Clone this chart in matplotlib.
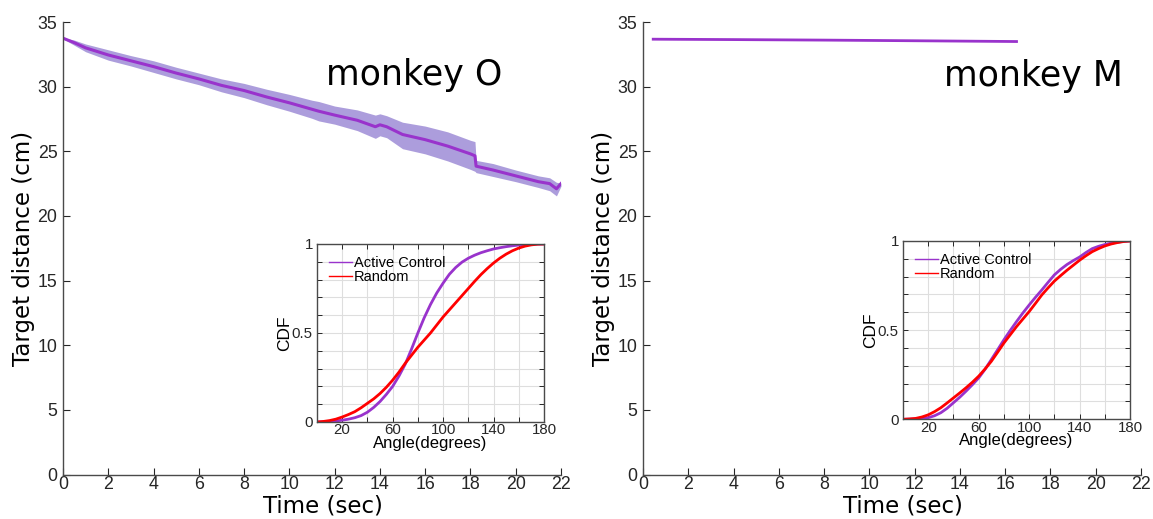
import matplotlib
matplotlib.use("Agg")
import matplotlib.pyplot as plt
from matplotlib import font_manager
from matplotlib.ticker import FixedLocator, FixedFormatter

# ---------------- data ----------------
# monkey O : mean target distance with band
t_O = [0, 0.5, 1, 2, 3, 4, 5, 6, 7, 8, 9, 10, 11, 11.3, 12, 13, 13.8, 14.0, 14.3, 15, 16, 17, 18, 18.2, 18.25, 19, 20, 21, 21.5, 21.8, 22.0]
mean_O = [33.75, 33.4, 33.0, 32.45, 32.0, 31.55, 31.05, 30.6, 30.1, 29.7, 29.2, 28.75, 28.25, 28.1, 27.8, 27.4, 26.9, 27.05, 26.9, 26.3, 25.9, 25.4, 24.8, 24.65, 23.85, 23.55, 23.1, 22.65, 22.5, 22.1, 22.5]
upper_O = [33.8, 33.6, 33.3, 32.85, 32.4, 32.0, 31.5, 31.05, 30.6, 30.25, 29.8, 29.4, 28.95, 28.85, 28.5, 28.2, 27.8, 27.9, 27.75, 27.25, 26.95, 26.5, 25.85, 25.75, 24.3, 24.05, 23.55, 23.1, 22.95, 22.6, 22.55]
lower_O = [33.7, 33.2, 32.7, 32.05, 31.6, 31.1, 30.6, 30.15, 29.6, 29.15, 28.6, 28.1, 27.55, 27.35, 27.1, 26.6, 26.0, 26.2, 26.05, 25.2, 24.8, 24.25, 23.6, 23.45, 23.35, 23.05, 22.65, 22.2, 21.95, 21.55, 22.3]

# monkey M
t_M = [0.45, 4, 8, 12, 16.5]
mean_M = [33.67, 33.64, 33.6, 33.55, 33.49]

# CDF insets (angle in degrees)
angle = [0, 5, 10, 15, 20, 25, 30, 35, 40, 45, 50, 55, 60, 65, 70, 75, 80, 85, 90,
         95, 100, 105, 110, 115, 120, 125, 130, 135, 140, 145, 150, 155, 160, 165, 170, 175, 180]
cdf_O_active = [0, 0.001, 0.003, 0.006, 0.010, 0.016, 0.024, 0.036, 0.055, 0.082, 0.115, 0.155, 0.200,
                0.258, 0.325, 0.410, 0.500, 0.585, 0.660, 0.725, 0.780, 0.830, 0.868, 0.898, 0.920,
                0.937, 0.951, 0.962, 0.972, 0.979, 0.985, 0.990, 0.994, 0.997, 0.999, 1.0, 1.0]
cdf_O_random = [0, 0.003, 0.008, 0.016, 0.028, 0.042, 0.058, 0.080, 0.105, 0.130, 0.160, 0.195, 0.235,
                0.280, 0.330, 0.375, 0.420, 0.460, 0.500, 0.545, 0.590, 0.630, 0.670, 0.710, 0.750,
                0.790, 0.828, 0.862, 0.893, 0.920, 0.943, 0.962, 0.977, 0.988, 0.995, 0.999, 1.0]
cdf_M_active = [0, 0.001, 0.002, 0.004, 0.009, 0.020, 0.037, 0.062, 0.093, 0.124, 0.158, 0.194, 0.232,
                0.280, 0.335, 0.390, 0.446, 0.498, 0.548, 0.596, 0.641, 0.684, 0.725, 0.768, 0.810,
                0.841, 0.868, 0.890, 0.910, 0.935, 0.957, 0.970, 0.980, 0.988, 0.993, 0.998, 1.0]
cdf_M_random = [0, 0.002, 0.005, 0.013, 0.025, 0.043, 0.065, 0.092, 0.120, 0.148, 0.177, 0.208, 0.242,
                0.282, 0.325, 0.376, 0.428, 0.474, 0.520, 0.562, 0.604, 0.650, 0.697, 0.737, 0.775,
                0.806, 0.836, 0.864, 0.892, 0.917, 0.940, 0.957, 0.972, 0.983, 0.991, 0.997, 1.0]

titles = ["monkey O", "monkey M"]
legend_labels = ["Active Control", "Random"]
xticks_main = list(range(0, 23, 2))
yticks_main = list(range(0, 36, 5))
xticks_inset = [20, 60, 100, 140, 180]
xgrid_inset = [40, 80, 120, 160]
yticks_inset = [0, 0.5, 1]
ytick_labels_inset = ["0", "0.5", "1"]
ygrid_inset = [0.1, 0.2, 0.3, 0.4, 0.6, 0.7, 0.8, 0.9]

# ---------------- style ----------------
PURPLE = "#9933cc"
BAND = "#a898da"
RED = "#ff0000"
AX = "#262626"
SPINE = "#4a4a4a"

_names = {f.name for f in font_manager.fontManager.ttflist}
HAS_NARROW = "Liberation Sans Narrow" in _names
NARROW = "Liberation Sans Narrow" if HAS_NARROW else "Liberation Sans"
HELV = "Liberation Sans"
MAIN_TICK_SIZE = 14 if HAS_NARROW else 12.8
INSET_TICK_SIZE = 12 if HAS_NARROW else 10.8

plt.rcParams["font.family"] = ["DejaVu Sans"]

fig = plt.figure(figsize=(11.53, 5.19), dpi=100)

main_rects = [[0.05464, 0.0857, 0.4319, 0.8719], [0.5577, 0.0857, 0.4319, 0.8719]]
inset_rects = [[0.2749, 0.1869, 0.1969, 0.3430], [0.7832, 0.1921, 0.1969, 0.3436]]
title_pos = [(0.706, 0.882), (0.783, 0.88)]


def style_main(ax):
    ax.set_xlim(0, 22)
    ax.set_ylim(0, 35)
    ax.set_xticks(xticks_main)
    ax.set_yticks(yticks_main)
    for s in ["top", "right"]:
        ax.spines[s].set_visible(False)
    for s in ["left", "bottom"]:
        ax.spines[s].set_color(SPINE)
        ax.spines[s].set_linewidth(1.0)
    ax.tick_params(axis="y", direction="in", length=5, width=0.8, colors=AX, pad=4,
                   labelsize=MAIN_TICK_SIZE, labelfontfamily=NARROW)
    ax.tick_params(axis="x", direction="in", length=5, width=0.8, colors=AX, pad=1,
                   labelsize=MAIN_TICK_SIZE, labelfontfamily=NARROW)
    ax.set_xlabel("Time (sec)", fontsize=16.5)
    ax.xaxis.set_label_coords(0.522, -0.045)
    ax.set_ylabel("Target distance (cm)", fontsize=16.5)
    ax.yaxis.set_label_coords(-0.056, 0.5)


def style_inset(ax):
    ax.set_xlim(0, 180)
    ax.set_ylim(0, 1)
    ax.xaxis.set_major_locator(FixedLocator(xticks_inset))
    ax.xaxis.set_minor_locator(FixedLocator(xgrid_inset))
    ax.yaxis.set_major_locator(FixedLocator(yticks_inset))
    ax.yaxis.set_major_formatter(FixedFormatter(ytick_labels_inset))
    ax.yaxis.set_minor_locator(FixedLocator(ygrid_inset))
    ax.grid(True, which="both", color="#dedede", linewidth=0.8)
    ax.set_axisbelow(True)
    for s in ax.spines.values():
        s.set_color(SPINE)
        s.set_linewidth(1.0)
    ax.tick_params(which="both", direction="in", top=True, right=True,
                   length=3.5, width=0.7, colors=AX,
                   labelsize=INSET_TICK_SIZE, labelfontfamily=NARROW)
    ax.tick_params(axis="x", pad=1)
    ax.tick_params(axis="y", pad=3)
    ax.set_xlabel("Angle(degrees)", fontsize=12, fontfamily=HELV, labelpad=-1)
    ax.set_ylabel("CDF", fontsize=12.5, fontfamily=HELV, labelpad=0)


# main panels
ax1 = fig.add_axes(main_rects[0])
ax1.fill_between(t_O, lower_O, upper_O, color=BAND, linewidth=0, alpha=0.95)
ax1.plot(t_O, mean_O, color=PURPLE, lw=2.2)
style_main(ax1)

ax2 = fig.add_axes(main_rects[1])
ax2.plot(t_M, mean_M, color=PURPLE, lw=2.0)
style_main(ax2)

for ax, title, pos in zip([ax1, ax2], titles, title_pos):
    ax.text(pos[0], pos[1], title, transform=ax.transAxes, fontsize=25,
            ha="center", va="center", color="black")

# insets
cdfs = [(cdf_O_active, cdf_O_random), (cdf_M_active, cdf_M_random)]
for rect, (act, rnd) in zip(inset_rects, cdfs):
    ins = fig.add_axes(rect)
    ins.plot(angle, act, color=PURPLE, lw=2.0, label=legend_labels[0])
    ins.plot(angle, rnd, color=RED, lw=2.0, label=legend_labels[1])
    style_inset(ins)
    leg = ins.legend(loc="upper left", frameon=False, handlelength=1.6,
                     handletextpad=0.15, borderaxespad=0.4, labelspacing=0.05,
                     prop={"family": HELV, "size": 10.5})
    for h in leg.get_lines():
        h.set_linewidth(1.0)

fig.savefig("out.png", dpi=100)
